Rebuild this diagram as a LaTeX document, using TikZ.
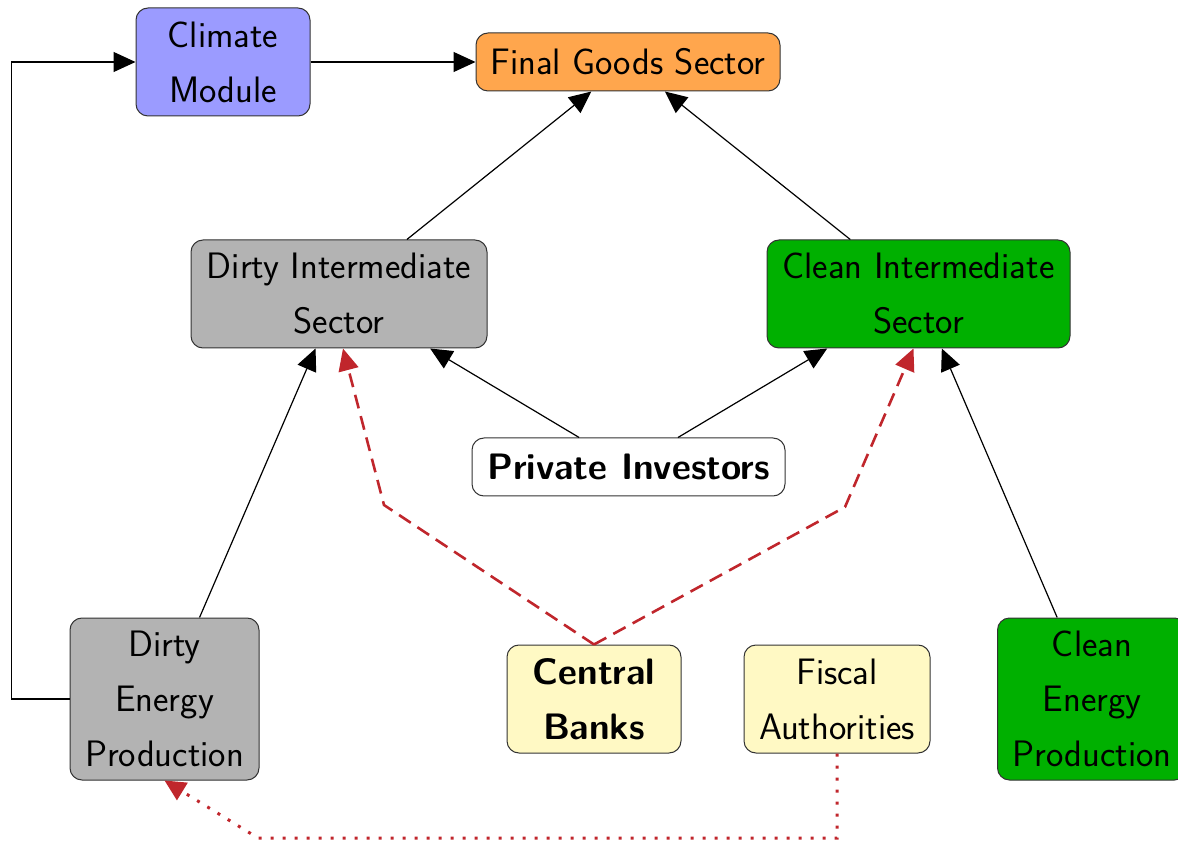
\documentclass[tikz,border=0pt]{standalone}
\usepackage{fontspec}
\usetikzlibrary{arrows.meta}
\definecolor{climateblue}{RGB}{155,155,255}
\definecolor{finalorange}{RGB}{255,166,77}
\definecolor{dirtygray}{RGB}{179,179,179}
\definecolor{cleangreen}{RGB}{0,176,0}
\definecolor{policyyellow}{RGB}{255,249,196}
\definecolor{policyred}{RGB}{192,38,44}
\begin{document}
\begin{tikzpicture}[x=0.5pt,y=-0.5pt,
  box/.style={draw=black!80, line width=0.5pt, rounded corners=6pt, align=center,
    inner sep=0pt, font=\sffamily\fontsize{18.4}{27.5}\selectfont},
  flow/.style={line width=0.6pt, -{Triangle[length=11pt,width=10pt]}},
  cbflow/.style={policyred, line width=1.3pt, dash pattern=on 7pt off 4pt,
    -{Triangle[length=11pt,width=10pt]}},
  fiscflow/.style={policyred, line width=1.5pt, dash pattern=on 1.5pt off 4.5pt,
    -{Triangle[length=10.5pt,width=10pt]}}]
\useasboundingbox (0,0) rectangle (1178,844);

% sectors and agents
\node[box, fill=climateblue, minimum width=87pt, minimum height=54pt] (cm) at (223,62) {Climate\\Module};
\node[box, fill=finalorange, minimum width=152pt, minimum height=29pt] (fg) at (628,62) {Final Goods Sector};
\node[box, fill=dirtygray, minimum width=148pt, minimum height=54pt] (di) at (339,294) {Dirty Intermediate\\Sector};
\node[box, fill=cleangreen, minimum width=151.5pt, minimum height=54pt] (ci) at (918.5,294) {Clean Intermediate\\Sector};
\node[box, fill=white, minimum width=156.5pt, minimum height=29pt] (pi) at (628.5,467) {\bfseries Private Investors};
\node[box, fill=dirtygray, minimum width=94.5pt, minimum height=81pt] (de) at (164.5,699) {Dirty\\Energy\\Production};
\node[box, fill=policyyellow, minimum width=87pt, minimum height=54pt] (cb) at (594,699) {\bfseries Central\\\bfseries Banks};
\node[box, fill=policyyellow, minimum width=93pt, minimum height=54pt] (fa) at (837,699) {Fiscal\\Authorities};
\node[box, fill=cleangreen, minimum width=94.5pt, minimum height=81pt] (ce) at (1092,699) {Clean\\Energy\\Production};

% waypoints of the policy channels
\coordinate (cbl) at (384,505);
\coordinate (cbr) at (845,507);
\coordinate (fab) at (837,838);
\coordinate (fal) at (258,838);

% production flows
\draw[flow] (cm) -- (fg);
\draw[flow] (di) -- (fg);
\draw[flow] (ci) -- (fg);
\draw[flow] (pi) -- (di);
\draw[flow] (pi) -- (ci);
\draw[flow] (de) -- (di);
\draw[flow] (ce) -- (ci);
\draw[flow] (de.west) -- ++(-58,0) |- (cm.west);

% policy channels
\draw[cbflow] (cb.north) -- (cbl) -- ([xshift=2pt]di.south);
\draw[cbflow] (cb.north) -- (cbr) -- ([xshift=-2.5pt]ci.south);
\draw[fiscflow] (fa.south) -- (fab) -- (fal) -- (de.south);
\end{tikzpicture}
\end{document}
